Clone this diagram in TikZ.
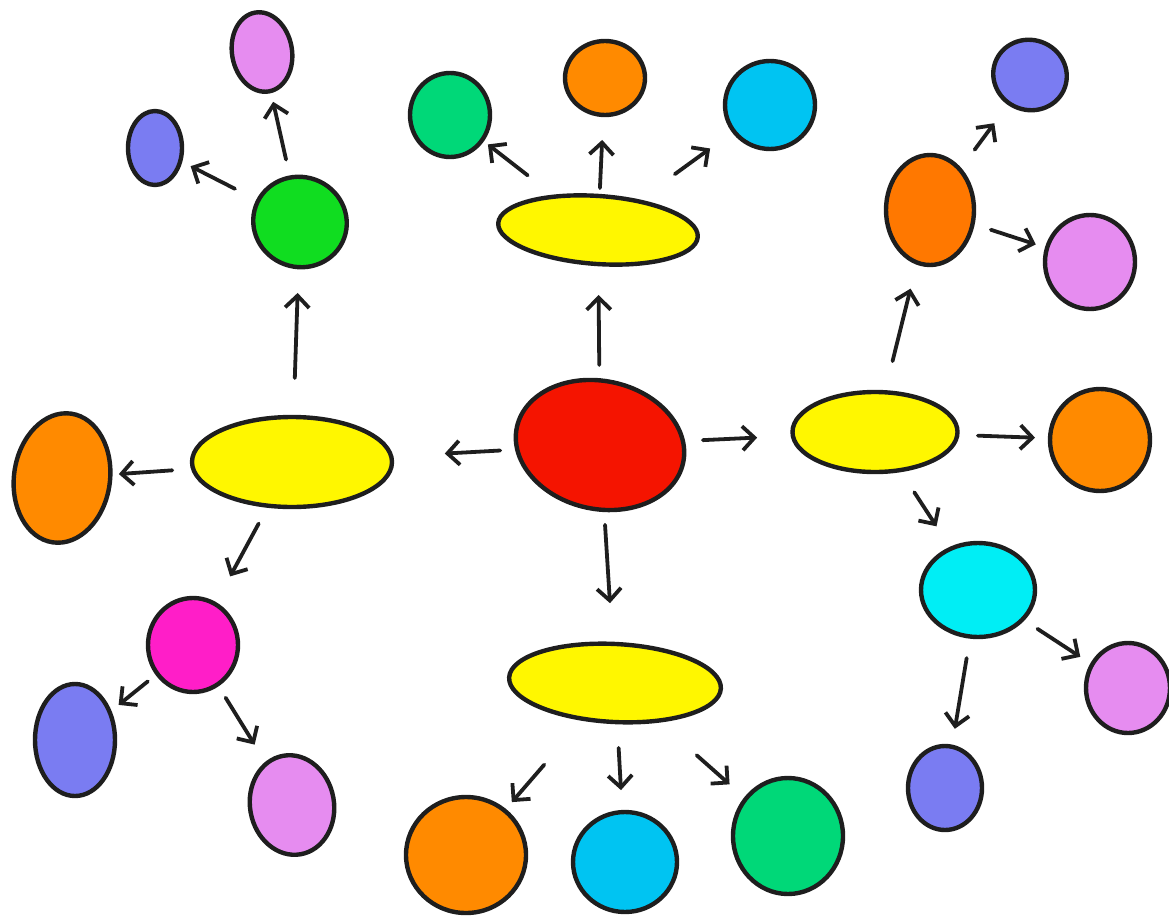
\documentclass[tikz,border=0pt]{standalone}
\usetikzlibrary{shapes.geometric,arrows.meta}
\definecolor{cred}{HTML}{F51400}
\definecolor{cyel}{HTML}{FFF700}
\definecolor{cgreen}{HTML}{10DD20}
\definecolor{cteal}{HTML}{00D878}
\definecolor{corange}{HTML}{FF8A00}
\definecolor{corangeb}{HTML}{FF7800}
\definecolor{ccyan}{HTML}{00C4F2}
\definecolor{ccyanb}{HTML}{00EEF5}
\definecolor{cviolet}{HTML}{E68CF0}
\definecolor{cblue}{HTML}{7A7CF2}
\definecolor{cmag}{HTML}{FF1EC8}
\definecolor{cink}{HTML}{1E1E1E}
\tikzset{
  blob/.style={ellipse, draw=cink, line width=4.4pt, inner sep=0pt, outer sep=0pt},
  conn/.style={-{Straight Barb[length=12pt,width=24pt,line width=3.8pt]}, draw=cink, line width=3.8pt, line cap=round},
  gap/.style 2 args={shorten <=#1pt, shorten >=#2pt},
}
\begin{document}
\begin{tikzpicture}[x=1pt,y=-1pt]
\useasboundingbox (0,0) rectangle (1169,920);
% centre and branches
\node[blob, fill=cred, minimum width=170pt, minimum height=128pt, rotate=-12] (red) at (600,445) {};
\node[blob, fill=cyel, minimum width=200pt, minimum height=68pt, rotate=-4] (ytop) at (598,230) {};
\node[blob, fill=cyel, minimum width=200pt, minimum height=90pt] (yleft) at (292,462) {};
\node[blob, fill=cyel, minimum width=165pt, minimum height=80pt] (yright) at (875,432) {};
\node[blob, fill=cyel, minimum width=212pt, minimum height=78pt, rotate=-3] (ybot) at (615,683) {};
% top children
\node[blob, fill=cteal, minimum width=80pt, minimum height=84pt] (tgreen) at (450,115) {};
\node[blob, fill=corange, minimum width=80pt, minimum height=74pt] (torange) at (605,78) {};
\node[blob, fill=ccyan, minimum width=90pt, minimum height=88pt] (tcyan) at (770,105) {};
% left children
\node[blob, fill=corange, minimum width=96pt, minimum height=130pt, rotate=-8] (lorange) at (62,478) {};
\node[blob, fill=cgreen, minimum width=94pt, minimum height=90pt, rotate=-20] (lgreen) at (300,222) {};
\node[blob, fill=cmag, minimum width=90pt, minimum height=94pt] (lmag) at (193,645) {};
\node[blob, fill=cviolet, minimum width=60pt, minimum height=80pt, rotate=10] (gviolet) at (262,52) {};
\node[blob, fill=cblue, minimum width=54pt, minimum height=74pt] (gblue) at (155,148) {};
\node[blob, fill=cblue, minimum width=80pt, minimum height=112pt] (mblue) at (75,740) {};
\node[blob, fill=cviolet, minimum width=84pt, minimum height=100pt, rotate=10] (mviolet) at (292,805) {};
% right children
\node[blob, fill=corangeb, minimum width=88pt, minimum height=110pt] (rorange) at (930,210) {};
\node[blob, fill=corange, minimum width=100pt, minimum height=102pt] (rorange2) at (1100,440) {};
\node[blob, fill=ccyanb, minimum width=114pt, minimum height=94pt] (rcyan) at (978,590) {};
\node[blob, fill=cblue, minimum width=74pt, minimum height=70pt, rotate=-20] (oblue) at (1030,75) {};
\node[blob, fill=cviolet, minimum width=90pt, minimum height=94pt] (oviolet) at (1090,262) {};
\node[blob, fill=cviolet, minimum width=84pt, minimum height=90pt] (cviol) at (1128,688) {};
\node[blob, fill=cblue, minimum width=74pt, minimum height=84pt] (cblu) at (945,788) {};
% bottom children
\node[blob, fill=corange, minimum width=120pt, minimum height=116pt] (borange) at (466,855) {};
\node[blob, fill=ccyan, minimum width=104pt, minimum height=100pt] (bcyan) at (625,862) {};
\node[blob, fill=cteal, minimum width=110pt, minimum height=116pt] (bgreen) at (788,836) {};
% connectors (centre to centre, trimmed)
\draw[conn, gap={80}{65}]   (red.center) -- (ytop.center);
\draw[conn, gap={100}{153}] (red.center) -- (yleft.center);
\draw[conn, gap={103}{118}] (red.center) -- (yright.center);
\draw[conn, gap={80}{80}]   (red.center) -- (ybot.center);
\draw[conn, gap={89}{48}]   (ytop.center) -- (tgreen.center);
\draw[conn, gap={42}{62}]   (ytop.center) -- (torange.center);
\draw[conn, gap={95}{74}]   (ytop.center) -- (tcyan.center);
\draw[conn, gap={120}{57}]  (yleft.center) -- (lorange.center);
\draw[conn, gap={84}{71}]   (yleft.center) -- (lgreen.center);
\draw[conn, gap={70}{78}]   (yleft.center) -- (lmag.center);
\draw[conn, gap={64}{51}]   (lgreen.center) -- (gviolet.center);
\draw[conn, gap={73}{40}]   (lgreen.center) -- (gblue.center);
\draw[conn, gap={58}{56}]   (lmag.center) -- (mblue.center);
\draw[conn, gap={62}{71}]   (lmag.center) -- (mviolet.center);
\draw[conn, gap={73}{81}]   (yright.center) -- (rorange.center);
\draw[conn, gap={103}{65}]  (yright.center) -- (rorange2.center);
\draw[conn, gap={72}{76}]   (yright.center) -- (rcyan.center);
\draw[conn, gap={75}{60}]   (rorange.center) -- (oblue.center);
\draw[conn, gap={64}{57}]   (rorange.center) -- (oviolet.center);
\draw[conn, gap={71}{57}]   (rcyan.center) -- (cviol.center);
\draw[conn, gap={69}{60}]   (rcyan.center) -- (cblu.center);
\draw[conn, gap={108}{70}]  (ybot.center) -- (borange.center);
\draw[conn, gap={65}{72}]   (ybot.center) -- (bcyan.center);
\draw[conn, gap={109}{78}]  (ybot.center) -- (bgreen.center);
\end{tikzpicture}
\end{document}
